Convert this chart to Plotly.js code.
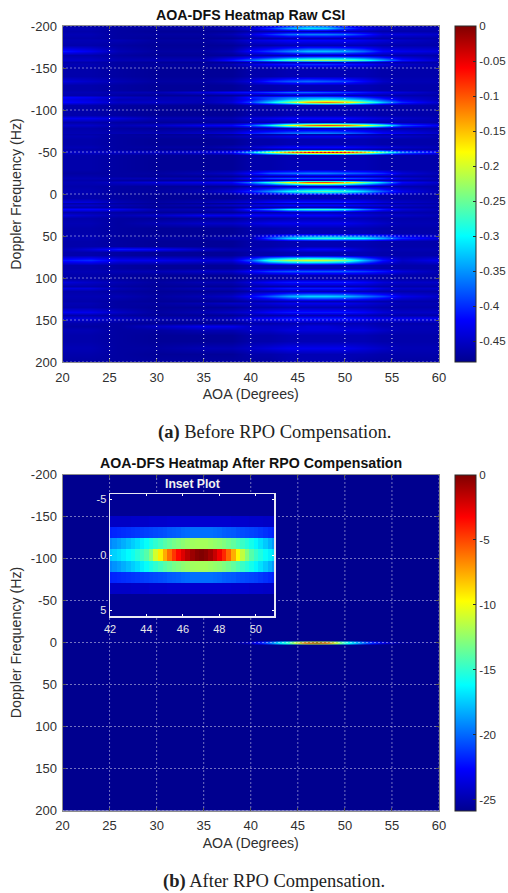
<!DOCTYPE html>
<html><head><meta charset="utf-8">
<script src="https://cdn.plot.ly/plotly-3.0.1.min.js"></script>
<style>html,body{margin:0;padding:0;background:#fff}</style></head>
<body><div id="chart" style="width:508px;height:893px"></div>
<script>
// ---- Data ----
const xTicks = [20,25,30,35,40,45,50,55,60];
const yTicks = [-200,-150,-100,-50,0,50,100,150,200];
const yTickText = ['-200','-150','-100','-50','0','50','100','150','200'];
const cbATicks = [0,-0.05,-0.1,-0.15,-0.2,-0.25,-0.3,-0.35,-0.4,-0.45];
const cbAText = ['0','-0.05','-0.1','-0.15','-0.2','-0.25','-0.3','-0.35','-0.4','-0.45'];
const cbBTicks = [0,-5,-10,-15,-20,-25];
const cbBText = ['0','-5','-10','-15','-20','-25'];
const insetXTicks = [42,44,46,48,50];
const insetYTicks = [-5,0,5];
const insetYText = ['-5','0','5'];

const aoaRaw = [20,23,26,30,35,38,40,42,44,46,48,50,52,54,56,60];
const t = [-.465,-.465,-.47,-.475,-.475,-.475,-.465,-.465,-.46,-.46,-.46,-.46,-.46,-.465,-.465,-.465];
const dopplerRaw = [-200,-198,-194,-190,-186,-183,-177,-170,-165,-160,-157,-155,-150,-140,-135,-130,-124,-121,-118,-115,-113,-110,-106,-100,-94,-90,-86,-82,-78,-73,-71,-69,-65,-60,-56,-53,-50,-47,-40,-30,-25,-22,-19,-17,-14,-10,-4,1,5,9,11,13,15.5,18,21,25,28,35,40,47,52,56,62,65,69,73,78,84,88,92,97,101,105,109,112,116,122,127,130,134,140,144,148,153,157,162,168,175,183,190,200];
const zRaw = [
[-.47,-.47,-.47,-.47,-.47,-.47,-.46,-.44,-.40,-.36,-.37,-.42,-.45,-.46,-.46,-.47],
[-.46,-.46,-.47,-.47,-.47,-.46,-.44,-.40,-.34,-.31,-.32,-.38,-.43,-.45,-.46,-.46],
t,
[-.46,-.46,-.47,-.47,-.47,-.46,-.44,-.40,-.37,-.36,-.36,-.37,-.40,-.44,-.44,-.45],
t,
[-.46,-.46,-.46,-.47,-.47,-.46,-.44,-.43,-.42,-.42,-.42,-.42,-.43,-.44,-.45,-.46],
t,
[-.41,-.43,-.46,-.47,-.47,-.46,-.42,-.39,-.36,-.33,-.33,-.34,-.37,-.42,-.43,-.44],
t,
[-.45,-.45,-.46,-.46,-.46,-.41,-.37,-.32,-.27,-.24,-.23,-.24,-.28,-.34,-.41,-.45],
t,
[-.46,-.46,-.47,-.47,-.47,-.46,-.44,-.42,-.41,-.40,-.40,-.41,-.42,-.44,-.45,-.46],
t,
t,
[-.44,-.45,-.46,-.47,-.47,-.46,-.44,-.40,-.38,-.37,-.38,-.39,-.42,-.45,-.46,-.46],
t,
t,
[-.46,-.46,-.46,-.46,-.44,-.42,-.41,-.39,-.37,-.37,-.38,-.39,-.41,-.43,-.44,-.46],
t,
[-.42,-.43,-.45,-.46,-.46,-.45,-.41,-.39,-.37,-.36,-.36,-.37,-.40,-.43,-.45,-.46],
[-.43,-.44,-.46,-.46,-.46,-.45,-.42,-.38,-.34,-.32,-.31,-.32,-.35,-.40,-.44,-.46],
[-.42,-.43,-.45,-.45,-.46,-.44,-.39,-.32,-.24,-.15,-.12,-.15,-.24,-.33,-.40,-.45],
t,
t,
t,
[-.43,-.43,-.44,-.46,-.46,-.46,-.44,-.43,-.42,-.42,-.42,-.42,-.43,-.44,-.45,-.46],
t,
[-.45,-.45,-.46,-.45,-.43,-.42,-.38,-.31,-.20,-.12,-.09,-.11,-.18,-.27,-.38,-.43],
t,
[-.46,-.46,-.46,-.46,-.45,-.44,-.41,-.39,-.37,-.36,-.36,-.37,-.39,-.42,-.43,-.45],
t,
[-.46,-.46,-.47,-.47,-.47,-.46,-.45,-.44,-.43,-.43,-.43,-.43,-.44,-.45,-.45,-.46],
t,
t,
[-.46,-.46,-.47,-.47,-.47,-.46,-.45,-.43,-.42,-.42,-.42,-.42,-.43,-.44,-.45,-.46],
t,
[-.45,-.45,-.45,-.45,-.44,-.42,-.34,-.22,-.12,-.06,-.05,-.06,-.14,-.26,-.36,-.42],
t,
t,
t,
[-.47,-.47,-.47,-.47,-.46,-.45,-.42,-.38,-.37,-.36,-.36,-.37,-.38,-.40,-.44,-.46],
t,
[-.46,-.46,-.46,-.46,-.46,-.45,-.42,-.39,-.38,-.38,-.38,-.38,-.39,-.41,-.44,-.46],
t,
[-.46,-.46,-.45,-.44,-.43,-.42,-.36,-.28,-.18,-.10,-.09,-.14,-.24,-.33,-.42,-.45],
t,
[-.46,-.46,-.47,-.47,-.46,-.44,-.40,-.35,-.30,-.27,-.26,-.28,-.32,-.38,-.43,-.46],
t,
t,
[-.44,-.44,-.46,-.47,-.46,-.45,-.44,-.42,-.41,-.41,-.41,-.41,-.42,-.44,-.45,-.46],
t,
[-.45,-.45,-.46,-.47,-.46,-.45,-.44,-.43,-.42,-.42,-.42,-.42,-.43,-.44,-.45,-.46],
t,
[-.42,-.42,-.43,-.46,-.46,-.45,-.40,-.36,-.30,-.28,-.28,-.30,-.36,-.41,-.44,-.46],
t,
[-.44,-.45,-.46,-.45,-.43,-.43,-.42,-.42,-.42,-.42,-.42,-.43,-.44,-.45,-.45,-.46],
t,
[-.46,-.46,-.47,-.46,-.45,-.45,-.44,-.43,-.43,-.43,-.43,-.43,-.44,-.45,-.46,-.46],
t,
t,
[-.46,-.46,-.47,-.47,-.47,-.46,-.46,-.38,-.32,-.29,-.28,-.29,-.30,-.34,-.40,-.44],
t,
t,
[-.46,-.44,-.41,-.42,-.45,-.46,-.46,-.45,-.44,-.42,-.42,-.43,-.45,-.46,-.46,-.46],
t,
t,
[-.41,-.40,-.43,-.43,-.44,-.44,-.38,-.27,-.22,-.20,-.21,-.24,-.33,-.41,-.45,-.43],
t,
t,
[-.46,-.46,-.46,-.46,-.45,-.45,-.42,-.39,-.38,-.38,-.38,-.38,-.39,-.41,-.44,-.46],
t,
t,
[-.44,-.45,-.46,-.47,-.46,-.46,-.44,-.42,-.41,-.41,-.41,-.41,-.42,-.44,-.45,-.45],
t,
[-.44,-.44,-.46,-.47,-.46,-.46,-.44,-.42,-.41,-.41,-.41,-.41,-.42,-.44,-.45,-.45],
t,
[-.46,-.46,-.46,-.47,-.46,-.45,-.42,-.38,-.34,-.32,-.32,-.33,-.36,-.39,-.43,-.45],
t,
[-.46,-.46,-.47,-.47,-.46,-.45,-.45,-.44,-.43,-.43,-.43,-.43,-.44,-.45,-.46,-.46],
t,
[-.43,-.43,-.45,-.47,-.46,-.45,-.44,-.42,-.41,-.41,-.41,-.41,-.42,-.44,-.45,-.45],
t,
[-.44,-.44,-.45,-.46,-.46,-.45,-.43,-.42,-.41,-.41,-.41,-.41,-.42,-.43,-.43,-.43],
t,
[-.47,-.47,-.47,-.45,-.43,-.43,-.45,-.45,-.45,-.44,-.44,-.45,-.45,-.46,-.46,-.46],
[-.46,-.46,-.47,-.47,-.46,-.46,-.45,-.45,-.44,-.44,-.44,-.44,-.44,-.45,-.46,-.46],
t,
t,
[-.46,-.46,-.47,-.47,-.46,-.46,-.45,-.44,-.43,-.43,-.43,-.43,-.44,-.45,-.46,-.46],
t,
[-.47,-.47,-.47,-.47,-.47,-.47,-.47,-.47,-.46,-.46,-.46,-.46,-.47,-.47,-.47,-.47]
];

const aoaComp = [20,38,40,42,43,44,45,46,47,48,49,50,51,52,53,54,55,56,60];
const dopplerComp = [-200,-2,-1,0,1,2,200];
const compNavy = [-25.85,-25.85,-25.85,-25.85,-25.85,-25.85,-25.85,-25.85,-25.85,-25.85,-25.85,-25.85,-25.85,-25.85,-25.85,-25.85,-25.85,-25.85,-25.85];
const compRow0 = [-25.85,-25.5,-24,-19,-16.5,-14,-8,-2.4,0,-2.9,-9.5,-15,-17,-19,-21,-22.5,-24,-25,-25.85];
const compRow1 = [-25.85,-25.85,-25,-21,-18,-15.5,-13,-11.5,-11,-11.6,-13,-15.5,-18.5,-21,-23,-24.5,-25.5,-25.85,-25.85];
const zComp = [compNavy,compNavy,compRow1,compRow0,compRow1,compNavy,compNavy];

const aoaInset = [42,42.25,42.5,42.75,43,43.25,43.5,43.75,44,44.25,44.5,44.75,45,45.25,45.5,45.75,46,46.25,46.5,46.75,47,47.25,47.5,47.75,48,48.25,48.5,48.75,49,49.25,49.5,49.75,50,50.25,50.5,50.75,51];
const dopplerInset = [-5,-4,-3,-2,-1,0,1,2,3,4,5];
const insetPeak = [-17.6,-17.3,-17,-16.6,-16.2,-15.8,-15.2,-14.6,-14,-12.8,-10.8,-9.3,-7.6,-6,-4.6,-3.4,-2.4,-1.5,-.7,-.2,0,-.3,-.9,-1.8,-2.9,-4.2,-5.8,-7.6,-9.5,-11.3,-12.8,-14,-14.8,-15.4,-16,-16.5,-17];
const insetNear = [-19.2,-18.9,-18.6,-18.2,-17.8,-17.4,-17,-16.5,-16,-15.5,-15,-14.5,-14,-13.6,-13.2,-12.9,-12.6,-12.3,-12.1,-12,-12,-12,-12.2,-12.4,-12.6,-12.9,-13.3,-13.7,-14.2,-14.7,-15.2,-15.7,-16.3,-16.9,-17.5,-18.1,-18.8];
const insetMid = [-21.8,-21.7,-21.6,-21.5,-21.4,-21.3,-21.2,-21.1,-21,-20.9,-20.8,-20.7,-20.6,-20.4,-20.3,-20.2,-20,-19.9,-19.8,-19.8,-19.8,-19.8,-19.8,-19.9,-20,-20.2,-20.3,-20.4,-20.6,-20.7,-20.8,-20.9,-21,-21.2,-21.4,-21.6,-21.8];
const insetFar = [-24.3,-24.3,-24.3,-24.3,-24.3,-24.2,-24.2,-24.2,-24.2,-24.1,-24.1,-24.1,-24.1,-24,-24,-24,-24,-24,-24,-24,-24,-24,-24,-24,-24,-24,-24,-24.1,-24.1,-24.1,-24.1,-24.2,-24.2,-24.2,-24.3,-24.3,-24.3];
const insetEdge = [-25.7,-25.7,-25.7,-25.7,-25.7,-25.7,-25.7,-25.7,-25.7,-25.7,-25.7,-25.7,-25.7,-25.7,-25.7,-25.7,-25.7,-25.7,-25.7,-25.7,-25.7,-25.7,-25.7,-25.7,-25.7,-25.7,-25.7,-25.7,-25.7,-25.7,-25.7,-25.7,-25.7,-25.7,-25.7,-25.7,-25.7];
const zInset = [insetEdge,insetEdge,insetFar,insetMid,insetNear,insetPeak,insetNear,insetMid,insetFar,insetEdge,insetEdge];

// ---- Styles ----
const jet = [[0,'#00008f'],[0.125,'#0000ff'],[0.375,'#00ffff'],[0.625,'#ffff00'],[0.875,'#ff0000'],[1,'#800000']];
const W = 508, H = 893;
const textColor = '#303030';
const sans = '"Liberation Sans", Arial, sans-serif';
const serif = '"Liberation Serif", "Times New Roman", serif';
const px = v => v / W;
const py = v => 1 - v / H;

function colorbar(top, bottom, vals, text) {
  return {
    x: px(455), xanchor: 'left', thickness: 21, thicknessmode: 'pixels',
    len: (bottom - top) / H, lenmode: 'fraction', y: py((top + bottom) / 2), yanchor: 'middle',
    xpad: 0, ypad: 0, outlinecolor: '#2a2a2a', outlinewidth: 1,
    tickmode: 'array', tickvals: vals, ticktext: text, ticks: 'inside', ticklen: 3,
    tickcolor: '#2a2a2a', tickfont: {family: sans, size: 11.6, color: textColor}
  };
}
function grid(xa, ya) {
  const xs = [], ys = [];
  xTicks.forEach(v => { xs.push(v, v, null); ys.push(yTicks[0], yTicks[yTicks.length - 1], null); });
  yTicks.forEach(v => { xs.push(xTicks[0], xTicks[xTicks.length - 1], null); ys.push(v, v, null); });
  return {type: 'scatter', mode: 'lines', x: xs, y: ys, xaxis: xa, yaxis: ya, hoverinfo: 'skip', showlegend: false,
          cliponaxis: false, line: {color: 'rgba(255,255,255,0.9)', width: 1, dash: '1px,3px'}};
}
function xAxis(anchor) {
  return {domain: [px(62.5), px(439)], range: [20, 60], anchor: anchor, tickmode: 'array', tickvals: xTicks,
          ticks: 'inside', ticklen: 3, tickcolor: '#555', showgrid: false, zeroline: false, mirror: 'ticks',
          showline: true, linecolor: '#8c8c8c', linewidth: 1, layer: 'above traces', ticklabelstandoff: 3,
          tickfont: {family: sans, size: 13, color: textColor},
          title: {text: 'AOA (Degrees)', standoff: 5, font: {family: sans, size: 14.2, color: textColor}}};
}
function yAxis(anchor, top, bottom) {
  return {domain: [py(bottom), py(top)], range: [200, -200], anchor: anchor, tickmode: 'array', tickvals: yTicks, ticktext: yTickText,
          ticks: 'inside', ticklen: 3, tickcolor: '#555', showgrid: false, zeroline: false, mirror: 'ticks',
          showline: true, linecolor: '#8c8c8c', linewidth: 1, layer: 'above traces', ticklabelstandoff: 2,
          tickfont: {family: sans, size: 13, color: textColor},
          title: {text: 'Doppler Frequency (Hz)', standoff: 5, font: {family: sans, size: 14.2, color: textColor}}};
}

const data = [
  {type: 'heatmap', x: aoaRaw, y: dopplerRaw, z: zRaw, xaxis: 'x', yaxis: 'y', zmin: -0.48, zmax: 0, zsmooth: 'best',
   colorscale: jet, colorbar: colorbar(26, 362, cbATicks, cbAText), hoverinfo: 'skip'},
  grid('x', 'y'),
  {type: 'heatmap', x: aoaComp, y: dopplerComp, z: zComp, xaxis: 'x2', yaxis: 'y2', zmin: -25.85, zmax: 0, zsmooth: 'best',
   colorscale: jet, colorbar: colorbar(474.5, 810.5, cbBTicks, cbBText), hoverinfo: 'skip'},
  grid('x2', 'y2'),
  {type: 'heatmap', x: aoaInset, y: dopplerInset, z: zInset, xaxis: 'x3', yaxis: 'y3', zmin: -25.85, zmax: 0, zsmooth: false,
   colorscale: jet, showscale: false, hoverinfo: 'skip'}
];

const inFont = {family: sans, size: 11, color: '#e8e8e8'};
const layout = {
  width: W, height: H, autosize: false, margin: {l: 0, r: 0, t: 0, b: 0, autoexpand: false}, showlegend: false,
  paper_bgcolor: '#fff', plot_bgcolor: '#00008f',
  xaxis: xAxis('y'), yaxis: yAxis('x', 26, 362),
  xaxis2: xAxis('y2'), yaxis2: yAxis('x2', 474.5, 810.5),
  xaxis3: {domain: [px(110), px(274)], range: [42, 51], anchor: 'y3', tickmode: 'array', tickvals: insetXTicks,
           ticks: 'inside', ticklen: 2, tickcolor: '#fff', showgrid: false, zeroline: false, mirror: 'ticks', ticklabelstandoff: 2,
           showline: true, linecolor: '#e8e8f4', linewidth: 1.5, tickfont: inFont, layer: 'above traces'},
  yaxis3: {domain: [py(616), py(494)], range: [5.5, -5.5], anchor: 'x3', tickmode: 'array', tickvals: insetYTicks, ticktext: insetYText,
           ticks: 'inside', ticklen: 2, tickcolor: '#fff', showgrid: false, zeroline: false, mirror: 'ticks',
           showline: true, linecolor: '#e8e8f4', linewidth: 1.5, tickfont: inFont, layer: 'above traces'},
  annotations: [
    {text: '<b>AOA-DFS Heatmap Raw CSI</b>', xref: 'paper', yref: 'paper', x: px(250.5), y: py(15), showarrow: false, xanchor: 'center', yanchor: 'middle', font: {family: sans, size: 14.2, color: '#111'}},
    {text: '<b>AOA-DFS Heatmap After RPO Compensation</b>', xref: 'paper', yref: 'paper', x: px(250.5), y: py(463), showarrow: false, xanchor: 'center', yanchor: 'middle', font: {family: sans, size: 14.2, color: '#111'}},
    {text: '<b>Inset Plot</b>', xref: 'paper', yref: 'paper', x: px(192), y: py(484), showarrow: false, xanchor: 'center', yanchor: 'middle', font: {family: sans, size: 12.2, color: '#f0f0f0'}},
    {text: '<b>(a)</b> Before RPO Compensation.', xref: 'paper', yref: 'paper', x: px(274), y: py(432), showarrow: false, xanchor: 'center', yanchor: 'middle', font: {family: serif, size: 18.5, color: '#222'}},
    {text: '<b>(b)</b> After RPO Compensation.', xref: 'paper', yref: 'paper', x: px(274), y: py(881), showarrow: false, xanchor: 'center', yanchor: 'middle', font: {family: serif, size: 18.5, color: '#222'}}
  ]
};
Plotly.newPlot('chart', data, layout, {staticPlot: true, displayModeBar: false});
</script></body></html>
